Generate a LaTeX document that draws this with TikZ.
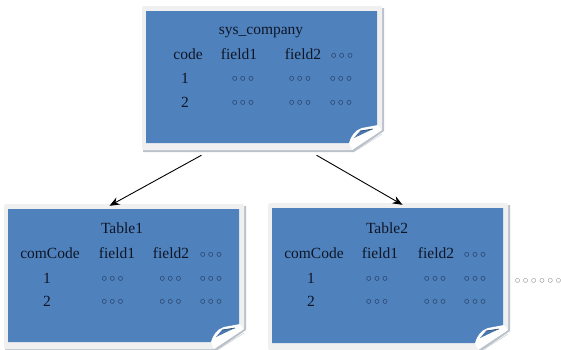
\documentclass[tikz,border=0pt]{standalone}
\usepackage{fontspec}
\setmainfont{Liberation Serif}
\newfontfamily\symfont{DejaVu Sans}
\usetikzlibrary{arrows.meta,fit}

\definecolor{cardblue}{HTML}{4F81BD}
\definecolor{cardedge}{HTML}{F0F0F0}
\definecolor{cardshade}{HTML}{BCC2CC}
\definecolor{inkdark}{HTML}{0E1626}
\definecolor{ringink}{HTML}{14203A}

% a row of small rings, spaced evenly
\newcommand\ringcell{\makebox[8.2pt]{◦}}
\newcommand\threerings{\ringcell\ringcell\ringcell}
\newcommand\sixrings{\threerings\threerings}

\tikzset{
  lbl/.style={anchor=base, inner sep=0, text=inkdark,
    font=\fontsize{15.5}{18}\selectfont},
  rings/.style={anchor=center, inner sep=0, text=ringink,
    font=\symfont\bfseries\fontsize{12.5}{13}\selectfont},
  link/.style={draw=black, line width=0.9pt,
    -{Stealth[length=10pt,width=8pt]}},
}

% note card: name, blue area from (#2,#3) to (#4,#5), curled lower right corner
\newcommand\notecard[5]{%
  \fill[cardshade] ({#2-3},{#3-3}) -- ({#4+7},{#3-3}) -- ({#4+7},{#5-12})
    -- ({#4-23},{#5+9}) -- ({#2-3},{#5+9}) -- cycle;
  \fill[cardedge, rounded corners=1.5pt] ({#2-4},{#3-5}) -- ({#4+5},{#3-5})
    -- ({#4+5},{#5-13}) -- ({#4-25},{#5+7}) -- ({#2-4},{#5+7}) -- cycle;
  \fill[cardblue] (#2,#3) -- (#4,#3) -- ({#4},{#5-16}) -- ({#4-27},{#5})
    -- (#2,#5) -- cycle;
  % folded flap
  \fill[white!92!cardedge] ({#4-28},{#5}) .. controls ({#4-26},{#5-7}) and ({#4-22},{#5-13}) .. ({#4-15},{#5-15})
    -- ({#4+1},{#5-18}) -- ({#4+5},{#5-13}) -- ({#4-25},{#5+7}) -- cycle;
  \fill[cardblue!92!black] ({#4-23},{#5-5}) -- ({#4-17},{#5-12}) -- ({#4-4},{#5-14}) -- cycle;
  \draw[cardblue!55!black, line width=0.6pt] ({#4-17},{#5-12}) -- ({#4-4},{#5-14});
  \draw[cardshade, line width=0.9pt] ({#4+4},{#5-11}) -- ({#4-22},{#5+6});
  \draw[cardshade!70!white, line width=0.6pt] ({#4+5},{#5-9}) -- ({#4-20},{#5+7});
  \node[fit={({#2-4},{#3-5}) ({#4+5},{#5+7})}, inner sep=0] (#1) {};
}

\begin{document}
\begin{tikzpicture}[x=1pt, y=-1pt]
\useasboundingbox (0,0) rectangle (561,349);

% parent table
\notecard{top}{146}{11}{377}{143}
\node[lbl] (topname) at (261,34) {sys\_company};
\node[lbl] (tophA) at (188,59) {code};
\node[lbl] (tophB) at (239,59) {field1};
\node[lbl] (tophC) at (303,59) {field2};
\node[rings] (tophD) at (342,57) {\threerings};
\node[lbl] (topr1) at (185,83) {1};
\node[rings] (topr1B) at (243,80) {\threerings};
\node[rings] (topr1C) at (300,80) {\threerings};
\node[rings] (topr1D) at (341,80) {\threerings};
\node[lbl] (topr2) at (185,107) {2};
\node[rings] (topr2B) at (243,104) {\threerings};
\node[rings] (topr2C) at (300,104) {\threerings};
\node[rings] (topr2D) at (341,104) {\threerings};

% child table 1
\notecard{tabA}{8}{209}{239}{342}
\node[lbl] (aname) at (122,233) {Table1};
\node[lbl] (ahA) at (50,258) {comCode};
\node[lbl] (ahB) at (117,258) {field1};
\node[lbl] (ahC) at (171,258) {field2};
\node[rings] (ahD) at (211,256) {\threerings};
\node[lbl] (ar1) at (47,283) {1};
\node[rings] (ar1B) at (112.5,280) {\threerings};
\node[rings] (ar1C) at (170.5,280) {\threerings};
\node[rings] (ar1D) at (211,280) {\threerings};
\node[lbl] (ar2) at (47,306) {2};
\node[rings] (ar2B) at (112.5,303) {\threerings};
\node[rings] (ar2C) at (170.5,303) {\threerings};
\node[rings] (ar2D) at (211,303) {\threerings};

% child table 2
\notecard{tabB}{272}{208}{503}{343}
\node[lbl] (bname) at (387,233) {Table2};
\node[lbl] (bhA) at (314,258) {comCode};
\node[lbl] (bhB) at (380,258) {field1};
\node[lbl] (bhC) at (436,258) {field2};
\node[rings] (bhD) at (475,256) {\threerings};
\node[lbl] (br1) at (311,283) {1};
\node[rings] (br1B) at (377,280) {\threerings};
\node[rings] (br1C) at (435,280) {\threerings};
\node[rings] (br1D) at (475,280) {\threerings};
\node[lbl] (br2) at (311,306) {2};
\node[rings] (br2B) at (377,303) {\threerings};
\node[rings] (br2C) at (435,303) {\threerings};
\node[rings] (br2D) at (475,303) {\threerings};

% more tables follow
\node[rings, text=black!55] (more) at (538,282) {\sixrings};

% links from the parent to its children
\draw[link] ([xshift=-60.5pt, yshift=-5pt]top.south) -- ([xshift=-14.5pt, yshift=-2pt]tabA.north);
\draw[link] ([xshift=54.5pt, yshift=-5pt]top.south) -- ([xshift=14.5pt, yshift=-2pt]tabB.north);
\end{tikzpicture}
\end{document}
